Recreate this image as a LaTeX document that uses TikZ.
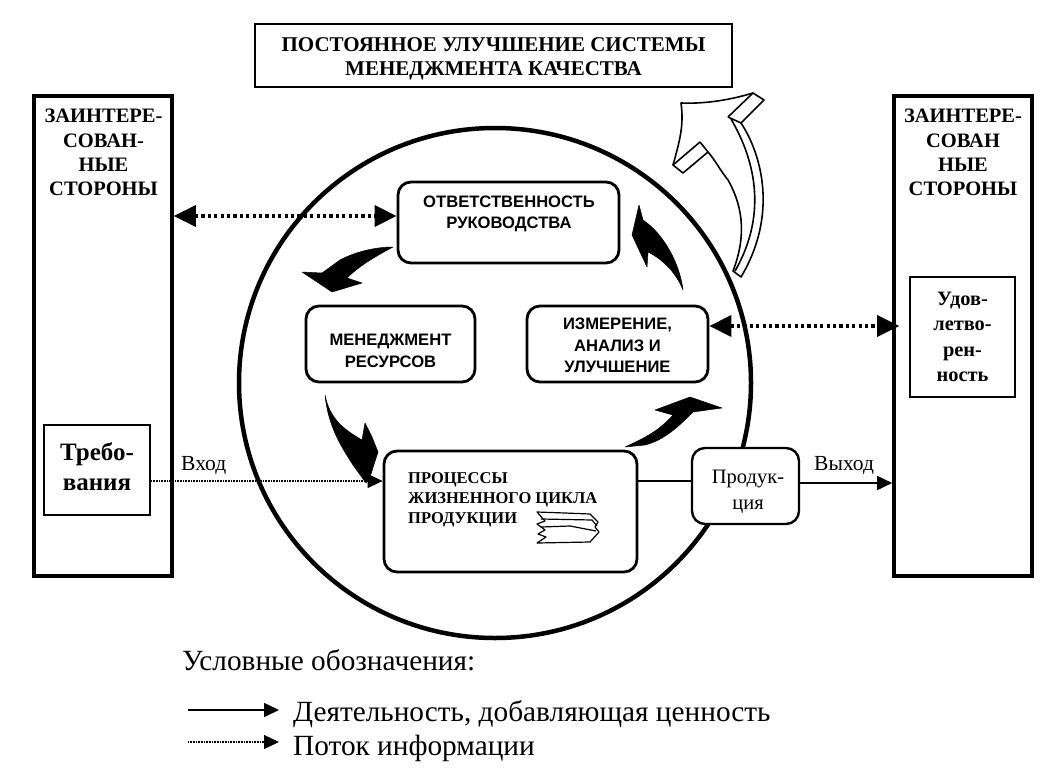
\documentclass[tikz,border=0pt]{standalone}
\usepackage{fontspec}
\setmainfont{Liberation Serif}
\newfontfamily\sansf{Liberation Sans}
\usetikzlibrary{arrows.meta,calc,shapes.geometric}
\tikzset{
  outerbox/.style={draw=black,line width=3.6pt,minimum width=#1,inner sep=0pt},
  plainbox/.style={draw=black,line width=1.8pt,inner sep=0pt,align=center},
  roundbox/.style={draw=black,line width=2.8pt,rounded corners=13pt,inner sep=0pt,align=center},
  caps/.style={font=\fontsize{20.5}{24.4}\selectfont\bfseries,align=center,inner sep=0pt},
  sbox/.style={font=\sansf\fontsize{16.6}{21.5}\selectfont\bfseries,align=center,inner sep=0pt},
  flow/.style={line width=1.6pt,-{Triangle[length=15pt,width=14pt]}},
  info/.style={line width=1.1pt,dash pattern=on 1pt off .6pt,-{Triangle[length=15pt,width=14pt]}},
  infobold/.style={line width=3.6pt,dash pattern=on 3.2pt off 3.2pt,{Triangle[length=22pt,width=21pt]}-{Triangle[length=22pt,width=21pt]}},
  blackarrow/.style={fill=black,draw=black,line width=.5pt,line join=round},
  liftarrow/.style={fill=white,draw=black,line width=1.6pt,line join=round},
  legendtext/.style={font=\fontsize{29.3}{32}\selectfont,inner sep=0pt,align=left,anchor=west},
  small/.style={font=\fontsize{21.5}{24}\selectfont,inner sep=0pt},
}
\begin{document}
\begin{tikzpicture}[x=1pt,y=-1pt]
\useasboundingbox[fill=white] (0,0) rectangle (1057,781);

% big circle
\node[draw=black,line width=4.5pt,ellipse,minimum width=512pt,minimum height=510pt,inner sep=0pt] (ring) at (495,383) {};

% outer boxes
\node[outerbox=138pt,minimum height=480pt] (left) at (103,336) {};
\node[outerbox=138pt,minimum height=480pt] (right) at (963,336) {};
\node[caps,anchor=north] (leftlab) at (103.5,109) {ЗАИНТЕРЕ-\\СОВАН-\\НЫЕ\\СТОРОНЫ};
\node[caps,anchor=north] (rightlab) at (963,109) {ЗАИНТЕРЕ-\\СОВАН\\НЫЕ\\СТОРОНЫ};

% top box
\node[plainbox,minimum width=477pt,minimum height=63pt] (top) at (493.5,55.5) {};
\node[inner sep=0pt,align=center,font=\fontsize{21}{24}\selectfont\bfseries] (toplab) at (493.5,59) {ПОСТОЯННОЕ УЛУЧШЕНИЕ СИСТЕМЫ\\МЕНЕДЖМЕНТА КАЧЕСТВА};

% inner boxes
\node[plainbox,minimum width=106pt,minimum height=90pt] (req) at (97,470) {};
\node[inner sep=0pt,align=center,font=\fontsize{25}{30}\selectfont\bfseries] (reqlab) at (97,467) {Требо-\\вания};
\node[plainbox,minimum width=105pt,minimum height=120pt,font=\fontsize{20.4}{25.3}\selectfont\bfseries] (sat) at (962.5,337) {Удов-\\летво-\\рен-\\ность};

\node[roundbox,minimum width=221pt,minimum height=81pt] (resp) at (508.5,222.5) {};
\node[sbox] (resplab) at (509,214) {ОТВЕТСТВЕННОСТЬ\\РУКОВОДСТВА};
\node[roundbox,minimum width=169pt,minimum height=76pt] (res) at (390.5,344) {};
\node[sbox] (reslab) at (390.5,351) {МЕНЕДЖМЕНТ\\РЕСУРСОВ};
\node[roundbox,minimum width=181pt,minimum height=76pt] (meas) at (617.5,344) {};
\node[sbox] (measlab) at (617.5,345.5) {ИЗМЕРЕНИЕ,\\АНАЛИЗ И\\УЛУЧШЕНИЕ};
\node[roundbox,minimum width=253pt,minimum height=121pt] (proc) at (510.5,511.5) {};
\node[anchor=north west,inner sep=0pt,align=left,font=\fontsize{16.5}{20}\selectfont\bfseries] (proclab) at (408,472) {ПРОЦЕССЫ\\ЖИЗНЕННОГО ЦИКЛА\\ПРОДУКЦИИ};
\node[roundbox,line width=2.4pt,fill=white,minimum width=107pt,minimum height=76pt] (prod) at (745.5,486) {};
\node[inner sep=0pt,align=center,font=\fontsize{20.5}{26}\selectfont] (prodlab) at (748,492) {Продук-\\ция};

% connectors
\coordinate (y1) at (0,216);
\coordinate (y2) at (0,326);
\coordinate (y3) at (0,481);
\coordinate (y4) at (0,483);
\draw[info] (req.east |- y3) -- (proc.west |- y3);
\draw[line width=1.2pt] (proc.east |- y3) -- (prod.west |- y3);
\draw[flow] (prod.east |- y4) -- (right.west |- y4);
\draw[infobold] (left.east |- y1) -- (resp.west |- y1);
\draw[infobold] (meas.east |- y2) -- ($(right.west |- y2)+(7pt,0)$);

\node[small,anchor=south west] (in) at (181,475) {Вход};
\node[small,anchor=south west] (out) at (814,475) {Выход};

% small stack glyph
\draw[line width=1.2pt,fill=white,line join=round]
 (537,512) -- (565,513) -- (590,514) -- (598,522) -- (595,527) -- (599,532) -- (590,542) -- (537,543) -- (546,537) -- (538,534) -- (545,530) -- (537,524) -- (545,521) -- cycle;
\draw[line width=1.2pt] (541,519) -- (592,520) -- (597,526);
\draw[line width=1.2pt] (541,527) -- (570,526) -- (596,531);

% lifting arrow
\draw[liftarrow] (681,103) .. controls (705,104) and (730,100) .. (753,93)
  -- (764,100) -- (741,123) .. controls (762,155) and (778,215) .. (741,277)
  -- (733,271) .. controls (745,240) and (745,210) .. (728,180) .. controls (720,170) and (715,160) .. (708,152)
  -- (683,173) -- (673,165) .. controls (680,140) and (684,125) .. (681,103) -- cycle;
\draw[liftarrow,fill=none] (700,142) -- (708,152);
\draw[liftarrow,fill=none] (700,142) -- (673,165);
\draw[liftarrow,fill=none] (728,117) -- (753,93);
\draw[liftarrow,fill=none] (728,117) -- (741,123);
\draw[liftarrow,fill=none] (731,119) .. controls (752,155) and (770,210) .. (735,271);

% black cycle arrows
\draw[blackarrow] (393,247) .. controls (375,247) and (355,252) .. (340,260) -- (322,273) -- (302,272) -- (332,292) -- (362,283) -- (347,278) .. controls (360,265) and (378,255) .. (393,247) -- cycle;
\draw[blackarrow] (325,395) .. controls (330,420) and (345,430) .. (362,440) -- (365,423) -- (372,437) -- (378,452) -- (370,477) -- (366,483) -- (353,465) .. controls (340,445) and (328,425) .. (325,395) -- cycle;
\draw[blackarrow] (625,447) .. controls (645,438) and (660,430) .. (673,415) -- (655,410) -- (690,397) -- (722,408) -- (693,412) .. controls (680,425) and (665,440) .. (645,445) -- cycle;
\draw[blackarrow] (639,205) -- (632,235) -- (647,267) -- (648,252) .. controls (660,258) and (675,270) .. (683,290) .. controls (680,265) and (665,235) .. (643,220) -- cycle;

% legend
\node[legendtext] (legtitle) at (182,660) {Условные обозначения:};
\node[legendtext] (leg1) at (293,714) {Деятельность, добавляющая ценность};
\node[legendtext] (leg2) at (293,748) {Поток информации};
\coordinate (l1) at (188,710);
\coordinate (l2) at (188,742);
\draw[flow] (l1) -- ($(leg1.west |- l1)+(-14pt,0)$);
\draw[info] (l2) -- ($(leg2.west |- l2)+(-14pt,0)$);
\end{tikzpicture}
\end{document}
